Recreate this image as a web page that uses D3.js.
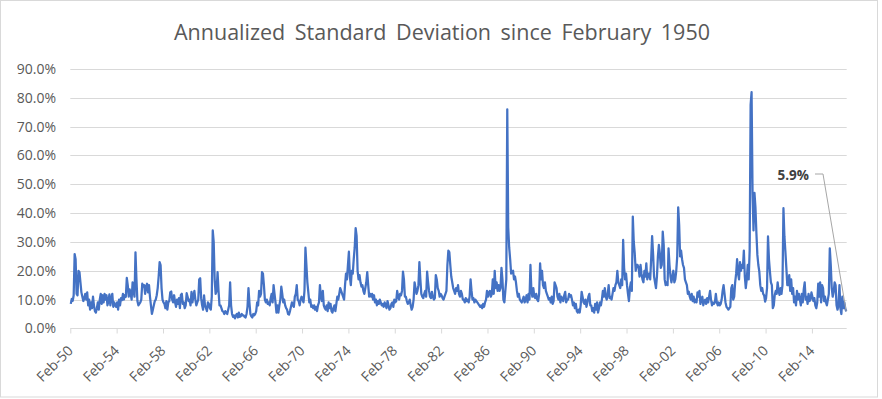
<!DOCTYPE html>
<html>
<head>
<meta charset="utf-8">
<script src="https://cdn.jsdelivr.net/npm/d3@7"></script>
<style>
  body { margin: 0; background: #fff; }
  svg text { font-family: "Open Sans", "Noto Sans", sans-serif; fill: #595959; }
</style>
</head>
<body>
<div id="chart"></div>
<script>
// monthly annualized standard deviation (%), Feb 1950 onwards
var vol1950s = [8.5, 10.2, 9.6, 11.5, 25.8, 24, 12, 11.5, 20, 19.5, 16,
  12.5, 11, 9.5, 10.5, 12, 10, 12.5, 8, 10, 6.5, 9, 7,
  11, 8, 6, 5.5, 7, 9, 6.5, 10, 12, 8.5, 11.5, 9,
  12, 10, 11.5, 8, 9.5, 11.8, 8, 10.5, 12, 7.5, 9, 8,
  7.5, 9, 6.5, 10, 8, 10.5, 9.8, 12, 10, 11.5, 11, 17.5,
  15, 11, 13.5, 12, 10, 16, 13, 11, 26.4, 17, 9.5, 8,
  8.5, 9, 10, 15.5, 14.5, 15, 12, 14.5, 15.5, 12.5, 15, 11,
  8, 5, 6.5, 8, 9.5, 10, 11.5, 14, 18, 23, 22, 14,
  10, 9, 8.5, 7, 9.5, 6.5, 9, 9.5, 12.5, 12.8, 10, 9,
  11.5, 9, 7.5, 10, 8.5, 10.5, 7, 11.6, 12, 8.5, 9, 7]

var vol1960s = [8, 12.2, 11, 9.5, 10, 8, 12.7, 9, 11.5, 13, 10, 8,
  9, 10, 17, 17.4, 10.5, 8, 6.5, 11.5, 8, 7, 6, 9,
  8.5, 7, 6.5, 11, 34, 30, 17, 12, 13, 19.5, 13, 8,
  8, 7, 6, 5.8, 5, 6, 5.5, 5, 6.5, 8, 16, 8,
  5, 4, 4.5, 3.5, 4.5, 5, 3.8, 5.5, 4, 4.2, 5, 4.5,
  4.5, 4, 3.8, 5, 7.5, 14, 9, 5, 4.2, 3.8, 5, 4.5,
  5, 6, 9, 8, 13, 11, 12, 19.5, 19, 15, 10, 9,
  10, 8.5, 9, 8, 10.5, 12, 9, 15, 12, 9, 5.5, 8,
  5.5, 8, 10, 14.5, 12, 9, 10, 8, 7, 6.5, 5, 4.8,
  6, 7.5, 9, 8, 7.5, 11, 12, 15, 10, 9.5, 8, 10]

var vol1970s = [11, 10, 9, 13, 28, 22, 16, 12.5, 9, 10, 7.5, 8,
  7, 8, 6.5, 7.5, 6, 8, 9, 15, 11, 9.5, 13, 8,
  7, 6.5, 8, 6, 9, 7, 8.5, 6, 5.5, 7, 8, 6,
  8.5, 11, 10, 12, 14, 13, 12, 11, 10, 15, 19, 17,
  22, 26.6, 18, 15, 20, 19, 24, 28, 34.8, 32, 20, 17,
  18.5, 16, 14.5, 15, 13, 12, 14, 16, 19.5, 15, 11, 12,
  11, 12, 10, 11.5, 9, 10, 8, 9.5, 8.5, 10, 9, 8,
  8.5, 7.5, 9, 8, 7, 9.5, 8, 6.5, 7, 8.5, 9, 7.5,
  10, 9, 9.5, 13, 11, 10, 12, 11.5, 13, 19.7, 17, 11,
  11, 9.5, 8.5, 9, 10, 8, 6.5, 7.5, 10, 16, 14, 12]

var vol1980s = [13, 15, 23, 17, 12, 11, 10.5, 12, 13, 11, 19.7, 16,
  13, 11, 10.5, 12.7, 11, 10, 10.5, 18.5, 17, 14, 13, 11,
  12, 11.5, 10.5, 10, 11, 12, 13, 22, 27, 26.5, 22, 18,
  16, 14, 13, 12, 14, 13, 15, 12, 11, 13, 12, 10,
  10, 9, 10.5, 9.5, 10, 9, 11, 17, 13, 10, 10.5, 9,
  10, 9.5, 9, 8.5, 8, 7.5, 8, 7, 8.5, 7.5, 9, 10,
  13, 11, 12.5, 13, 11, 12, 17, 12, 20, 14, 16, 13,
  15, 13, 14, 21, 17, 10, 9, 13, 17, 76, 35, 28,
  24, 19, 19.5, 20, 17, 18, 16, 13, 11, 12, 10, 9.5,
  9, 10, 11, 9, 10, 11.5, 9, 12, 10, 22, 13, 11]

var vol1990s = [14, 11, 10.5, 12, 10, 9.5, 12, 22.6, 17, 20, 15, 14,
  16, 13, 12, 11, 10, 10.5, 9, 11, 8.5, 9.5, 16, 15,
  14, 11, 10, 12, 9, 11, 10, 9.5, 11.5, 12.7, 9, 10,
  10, 12, 11, 11.5, 10, 8, 9, 7, 8.5, 6, 5.5, 6.5,
  5.5, 8, 12.7, 11, 9, 8.5, 10, 7.5, 9, 11, 12, 8,
  8, 6, 7, 5.5, 8.5, 6.5, 9, 5.5, 7, 9, 8, 10,
  13, 11, 14, 11, 10, 12, 15, 10.5, 11, 10, 12, 14,
  13, 15, 16, 20, 16, 15, 14, 17, 15, 30.7, 21, 17,
  19, 15, 12, 9.5, 14, 16, 13, 38.8, 30, 26, 20, 22,
  22, 21, 18, 22, 19, 17, 16, 20, 18, 22.6, 17, 19]

var vol2000s = [19, 17, 24, 32, 26, 18, 16, 14, 18, 25, 29, 26,
  21, 22, 33.6, 29, 17, 15, 16, 15, 27.8, 22, 18, 16,
  18, 20, 16, 17, 20, 25, 42, 36, 25, 27, 24, 22,
  21, 17, 16, 15, 12, 12.7, 11, 10, 12, 9.5, 11, 9,
  10, 9, 12.5, 11, 13, 8.5, 10, 11, 8, 9.5, 10, 8.5,
  10.5, 9, 11, 13, 10, 8, 9, 8.5, 9, 12, 9, 8,
  9, 8, 8.5, 10, 13, 15, 12, 9, 7.5, 7, 6.5, 7,
  7.5, 14, 15, 10, 11, 16, 19, 24, 19, 17, 23, 20,
  22, 21, 27, 18, 14, 17, 22, 17, 27, 77.6, 82, 47,
  34, 47, 42, 33, 25.5, 22, 19.7, 15, 13, 14, 12, 11.5]

var vol2010s = [9.3, 10.5, 14, 31.9, 24, 19.7, 16, 15, 7, 8, 11.6, 13,
  12, 16, 13, 11.6, 14, 12, 15, 41.7, 32, 26.7, 21, 15,
  15, 18.5, 13, 17, 12, 14, 9, 11, 8, 13, 10, 12,
  10, 8, 12, 9, 13.5, 16, 10, 11, 8.5, 12, 9.5, 10,
  12.5, 11, 9.5, 10.5, 8, 7, 9, 15.5, 11, 16, 9, 15,
  14, 9.5, 11, 9, 8, 10, 12, 27.8, 22, 14, 11, 12.7,
  16, 15, 8, 6.5, 8, 15, 7, 5, 11, 7, 9, 7,
  5.9]

var tickLabels = ["Feb-50", "Feb-54", "Feb-58", "Feb-62", "Feb-66", "Feb-70", "Feb-74", "Feb-78",
  "Feb-82", "Feb-86", "Feb-90", "Feb-94", "Feb-98", "Feb-02", "Feb-06", "Feb-10", "Feb-14"]
var yTicks = [0, 10, 20, 30, 40, 50, 60, 70, 80, 90]

var chartTitle = "Annualized Standard Deviation since February 1950"

var vol = [].concat(vol1950s, vol1960s, vol1970s, vol1980s, vol1990s, vol2000s, vol2010s)

var W = 882, H = 399
var plot = {left: 70.3, right: 846.7, top: 69, bottom: 328.4}

var svg = d3.select("#chart")
  .append("svg")
    .attr("width", W)
    .attr("height", H)

// chart area border
svg.append("rect")
  .attr("x", 0.5).attr("y", 0.5)
  .attr("width", 877).attr("height", 396.5)
  .attr("fill", "#fff")
  .attr("stroke", "#d9d9d9")

var x = d3.scaleLinear()
  .domain([0, vol.length])
  .range([plot.left, plot.right])

var y = d3.scaleLinear()
  .domain([0, 90])
  .range([plot.bottom, plot.top])

// gridlines
svg.append("g")
  .selectAll("line")
  .data(yTicks)
  .enter()
  .append("line")
    .attr("x1", plot.left)
    .attr("x2", plot.right)
    .attr("y1", function(d) { return Math.round(y(d)) + 0.5; })
    .attr("y2", function(d) { return Math.round(y(d)) + 0.5; })
    .attr("stroke", "#d9d9d9")
    .attr("stroke-width", 1)

// y axis labels
svg.append("g")
  .attr("transform", "translate(" + 56 + ",0)")
  .call(d3.axisLeft(y)
    .tickValues(yTicks)
    .tickSize(0)
    .tickPadding(0)
    .tickFormat(function(d) { return d.toFixed(1) + "%"; }))
  .call(g => g.select(".domain").remove())
  .selectAll("text")
    .style("font-size", "14px")
    .style("font-family", null)
    .attr("fill", "#595959")

// x axis ticks + rotated labels
var tickIdx = tickLabels.map(function(d, i) { return i * 48; })

svg.append("g")
  .attr("transform", "translate(0," + (Math.round(y(0)) + 0.5) + ")")
  .call(d3.axisBottom(x)
    .tickValues(tickIdx)
    .tickSize(5)
    .tickFormat(function(d, i) { return tickLabels[i]; }))
  .call(g => g.select(".domain").remove())
  .call(g => g.selectAll(".tick line").attr("stroke", "#d9d9d9"))
  .selectAll("text")
    .attr("y", 0)
    .attr("dy", 0)
    .attr("transform", "translate(3,23)rotate(-45)")
    .style("text-anchor", "end")
    .style("font-size", "14px")
    .style("font-family", null)
    .attr("fill", "#595959")

// series line
var line = d3.line()
  .x(function(d, i) { return x(i + 0.5); })
  .y(function(d) { return y(d); })

svg.append("path")
  .datum(vol)
  .attr("fill", "none")
  .attr("stroke", "#4472c4")
  .attr("stroke-width", 2.25)
  .attr("stroke-linejoin", "round")
  .attr("d", line)

// title
svg.append("text")
  .attr("x", 442)
  .attr("y", 40)
  .style("text-anchor", "middle")
  .style("font-size", "21.5px")
  .style("word-spacing", "4px")
  .text(chartTitle)

// last value callout
var last = vol[vol.length - 1]
var lx = x(vol.length - 0.5), ly = y(last)

svg.append("path")
  .attr("fill", "none")
  .attr("stroke", "#a6a6a6")
  .attr("stroke-width", 1)
  .attr("d", "M815,174L823,174L" + lx + "," + ly)

svg.append("text")
  .attr("x", 809)
  .attr("y", 180)
  .style("text-anchor", "end")
  .style("font-size", "13.5px")
  .style("font-weight", "bold")
  .style("fill", "#404040")
  .text(last.toFixed(1) + "%")
</script>
</body>
</html>
